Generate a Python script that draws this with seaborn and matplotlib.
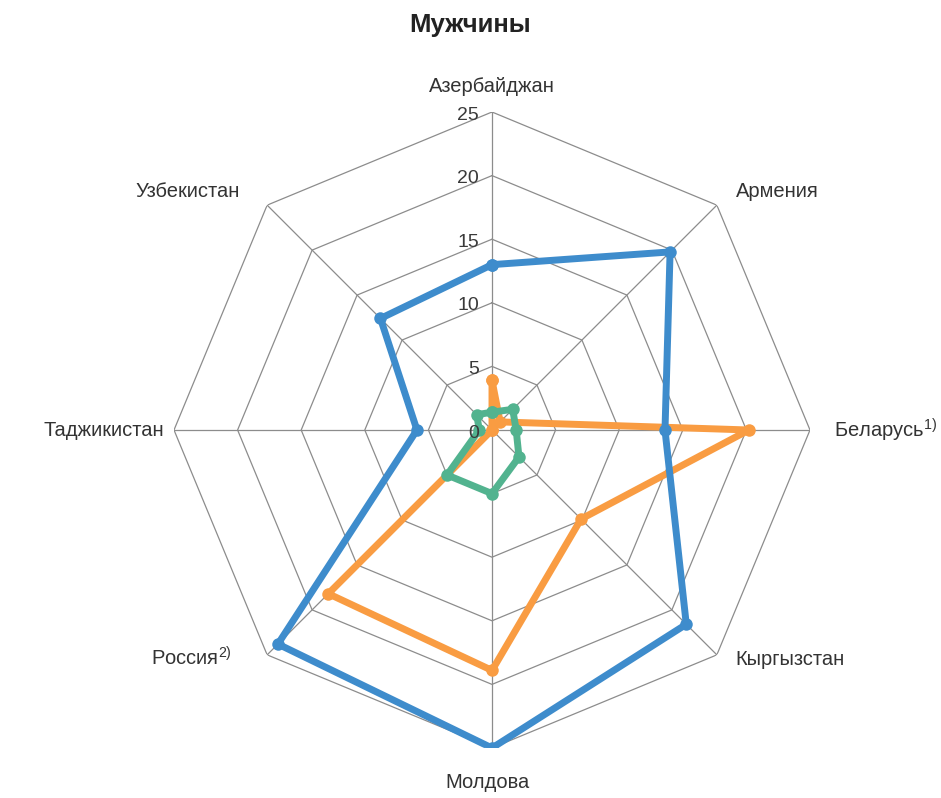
import numpy as np
import pandas as pd
import matplotlib
matplotlib.use("Agg")
import matplotlib.pyplot as plt
import matplotlib.transforms as mtransforms
import seaborn as sns

# categories clockwise from the top
countries = ["Азербайджан", "Армения", "Беларусь", "Кыргызстан",
             "Молдова", "Россия", "Таджикистан", "Узбекистан"]
country_labels = ["Азербайджан", "Армения", "Беларусь$^{1)}$", "Кыргызстан",
                  "Молдова", "Россия$^{2)}$", "Таджикистан", "Узбекистан"]

# values
blue_vals = [13.0, 19.8, 13.6, 21.6, 25.0, 23.8, 5.9, 12.4]
orange_vals = [3.9, 0.9, 20.2, 9.9, 18.9, 18.2, 0.0, 0.0]
green_vals = [1.4, 2.3, 1.9, 3.0, 5.0, 5.0, 1.0, 1.7]

ring_values = [0, 5, 10, 15, 20, 25]

colors = {"orange": "#f99c42", "blue": "#3e8ccc", "green": "#52b38f"}
text_color = "#333333"
grid_color = "#8c8c8c"

sns.set_theme(style="white")
plt.rcParams["font.family"] = ["Liberation Sans", "DejaVu Sans"]
plt.rcParams["mathtext.fontset"] = "custom"
plt.rcParams["mathtext.rm"] = "Liberation Sans"
plt.rcParams["mathtext.it"] = "Liberation Sans"

n = len(countries)
angles = np.arange(n) * 2 * np.pi / n
closed_angles = np.append(angles, angles[0])

# long table, each series closed back on its first point
rows = []
for name, vals in [("orange", orange_vals), ("blue", blue_vals), ("green", green_vals)]:
    closed = list(vals) + [vals[0]]
    for order, (a, v) in enumerate(zip(closed_angles, closed)):
        rows.append({"series": name, "angle": a, "value": v, "order": order})
df = pd.DataFrame(rows)

fig = plt.figure(figsize=(9.41, 7.98), dpi=100)
ax = fig.add_axes([172 / 941, 50 / 798, 640 / 941, 636 / 798], projection="polar")
ax.set_theta_zero_location("N")
ax.set_theta_direction(-1)
ax.set_ylim(0, 25)
ax.grid(False)
ax.spines["polar"].set_visible(False)
ax.set_xticks([])
ax.set_yticks([])

# octagon grid and spokes
for r in ring_values[1:]:
    ax.plot(closed_angles, [r] * (n + 1), color=grid_color, lw=0.9, zorder=1)
for a in angles:
    ax.plot([a, a], [0, 25], color=grid_color, lw=0.9, zorder=1)

sns.lineplot(
    data=df, x="angle", y="value", hue="series",
    hue_order=["orange", "blue", "green"], palette=colors,
    sort=False, estimator=None, units="series",
    marker="o", markersize=9, markeredgewidth=0,
    linewidth=5, legend=False, ax=ax, zorder=3,
)
for line in ax.lines[-3:]:
    line.set_solid_joinstyle("round")
ax.set_xlabel("")
ax.set_ylabel("")

# radial tick labels left of the top spoke
tick_tr = mtransforms.offset_copy(ax.transData, fig=fig, x=-13, y=-3, units="dots")
for r in ring_values:
    ax.text(0, r, str(r), transform=tick_tr, ha="right", va="center",
            fontsize=14, color="#3a3a3a")

# category labels: (angle in degrees, radius, horizontal alignment)
label_pos = [(0, 27.0, "center"), (45.6, 26.8, "left"), (90, 26.9, "left"),
             (133.2, 26.3, "left"), (180.8, 27.7, "center"), (228.7, 27.2, "right"),
             (270, 25.8, "right"), (313.4, 27.3, "right")]
for lab, (deg, r, ha) in zip(country_labels, label_pos):
    ax.text(np.deg2rad(deg), r, lab, ha=ha, va="center",
            fontsize=14.5, color=text_color, clip_on=False)

fig.suptitle("Мужчины", y=1 - 25 / 798, va="center",
             fontsize=18.5, fontweight="bold", color="#222222")

fig.savefig("out.png", dpi=100, facecolor="white")
